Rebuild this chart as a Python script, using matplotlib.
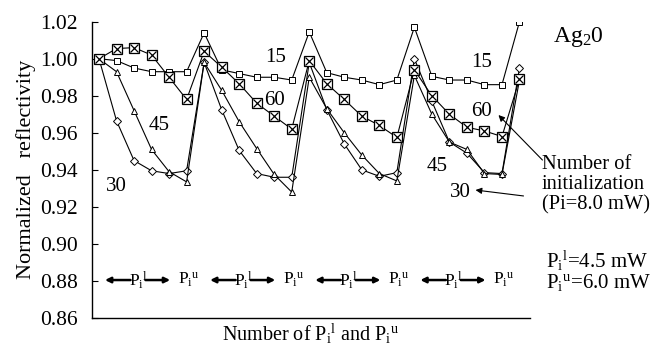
import matplotlib
matplotlib.use("Agg")
import matplotlib.pyplot as plt

plt.rcParams["font.family"] = ["Liberation Serif", "DejaVu Serif"]
plt.rcParams["mathtext.fontset"] = "custom"
plt.rcParams["mathtext.rm"] = "Liberation Serif"
plt.rcParams["mathtext.it"] = "Liberation Serif:italic"

# --- data ---
steps = list(range(25))
r15 = [1.000, 0.999, 0.995, 0.993, 0.993, 0.993, 1.014, 0.994, 0.992, 0.990, 0.990, 0.9885, 1.0145,
       0.9925, 0.990, 0.9885, 0.986, 0.9885, 1.017, 0.9905, 0.9885, 0.9885, 0.986, 0.986, 1.020]
r60 = [1.000, 1.0055, 1.006, 1.002, 0.990, 0.978, 1.004, 0.9955, 0.9865, 0.976, 0.969, 0.962, 0.999,
       0.9865, 0.978, 0.969, 0.964, 0.9575, 0.994, 0.980, 0.970, 0.963, 0.961, 0.958, 0.989]
r45 = [1.000, 0.993, 0.972, 0.951, 0.939, 0.9335, 0.998, 0.983, 0.966, 0.9515, 0.9375, 0.928, 0.990,
       0.973, 0.960, 0.948, 0.938, 0.934, 0.991, 0.970, 0.955, 0.951, 0.938, 0.9375, 0.9885]
r30 = [1.000, 0.9665, 0.945, 0.9395, 0.938, 0.9395, 0.998, 0.9725, 0.9505, 0.938, 0.936, 0.936, 0.998,
       0.9725, 0.954, 0.940, 0.9365, 0.9385, 1.000, 0.977, 0.955, 0.949, 0.9385, 0.938, 0.995]
cycle_starts = [0, 6, 12, 18]
yticks = [0.86, 0.88, 0.90, 0.92, 0.94, 0.96, 0.98, 1.00, 1.02]

PL = r"$\mathrm{P_i{}^l}$"
PU = r"$\mathrm{P_i{}^u}$"

fig = plt.figure(figsize=(6.55, 3.47), dpi=100, facecolor="white")
ax = fig.add_axes([92 / 655, 1 - 318 / 347, (530 - 92) / 655, (318 - 21.7) / 347])

lw = 0.8
ax.plot(steps, r30, color="black", lw=lw, marker="D", ms=4, mfc="white", mec="black", mew=0.7)
ax.plot(steps, r45, color="black", lw=lw, marker="^", ms=5, mfc="white", mec="black", mew=0.7)
ax.plot(steps, r15, color="black", lw=lw, marker="s", ms=4.3, mfc="white", mec="black", mew=0.7)
ax.plot(steps, r60, color="black", lw=lw, marker="s", ms=7.3, mfc="white", mec="black", mew=0.9)
ax.plot(steps, r60, ls="none", marker="x", ms=5.8, mec="black", mew=0.9)

ax.set_xlim(-0.4, 24.6)
ax.set_ylim(0.86, 1.02)
ax.set_yticks(yticks)
ax.set_yticklabels([f"{v:.2f}" for v in yticks], fontsize=15.5)
ax.set_xticks([])
ax.tick_params(axis="y", direction="in", length=4, width=0.8, pad=10)
ax.spines["top"].set_visible(False)
ax.spines["right"].set_visible(False)
for s in ("left", "bottom"):
    ax.spines[s].set_linewidth(1.0)
ax.set_ylabel("Normalized   reflectivity", fontsize=16, labelpad=3)
ax.set_xlabel("Number of " + PL + " and " + PU, fontsize=14.5, labelpad=2.5)

# curve labels
for (x, y, t) in [(10.06, 1.0004, "15"), (10.0, 0.9777, "60"), (3.43, 0.9642, "45"), (0.97, 0.9308, "30"),
                  (21.83, 0.9977, "15"), (21.83, 0.9713, "60"), (19.31, 0.9416, "45"), (20.6, 0.928, "30")]:
    ax.text(x, y, t, fontsize=15, ha="center", va="center")

# arrows to the right-hand curve labels
arr = dict(arrowstyle="-|>", color="black", lw=0.8, mutation_scale=9, shrinkA=0, shrinkB=0)
ax.annotate("", xy=(22.8, 0.9696), xytext=(25.31, 0.9453), arrowprops=arr, annotation_clip=False)
ax.annotate("", xy=(21.49, 0.9291), xytext=(24.23, 0.9259), arrowprops=arr, annotation_clip=False)

# P_i^l / P_i^u row
thick = dict(arrowstyle="-|>", color="black", lw=1.8, mutation_scale=8, shrinkA=0, shrinkB=0)
yrow = 0.8805
for c in cycle_starts:
    ax.annotate("", xy=(c + 0.34, yrow), xytext=(c + 1.8, yrow), arrowprops=thick)
    ax.text(c + 2.25, yrow, PL, fontsize=12.5, ha="center", va="center")
    ax.annotate("", xy=(c + 4.06, yrow), xytext=(c + 2.65, yrow), arrowprops=thick)
    ax.text(c + 5.1, yrow, PU, fontsize=12.5, ha="center", va="center")

# right-hand notes
def ft(px, py, s, **kw):
    return fig.text(px / 655, 1 - py / 347, s, ha="left", **kw)

ft(553, 37, r"Ag$_2$0", fontsize=17, va="center")
ft(542, 185, "Number of\ninitialization\n(Pi=8.0 mW)", fontsize=14.8, va="center", linespacing=1.08)
ft(546, 271, PL + "=4.5 mW\n" + PU + "=6.0 mW", fontsize=15, va="center", linespacing=0.95)

fig.savefig("out.png", dpi=100, facecolor="white")
